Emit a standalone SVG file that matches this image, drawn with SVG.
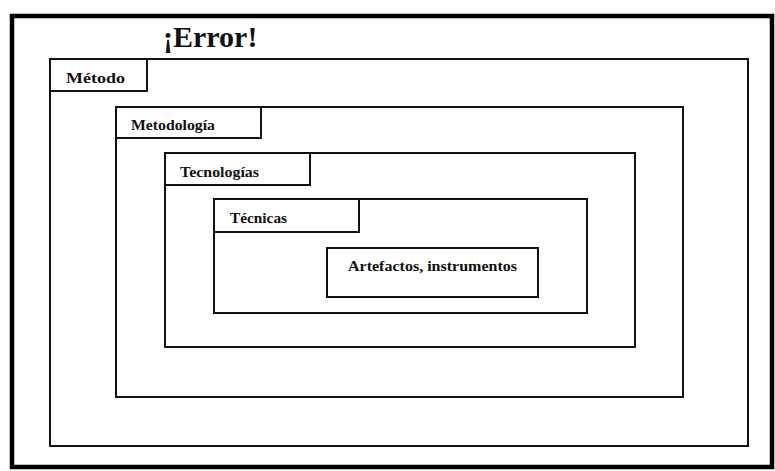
<svg xmlns="http://www.w3.org/2000/svg" width="775" height="471" viewBox="0 0 775 471">
<style>
.box{fill:none;stroke:#111;stroke-width:2}
.lbl{font-family:"Liberation Serif","Times New Roman",serif;font-weight:bold;font-size:15.5px;fill:#111}
</style>
<rect width="775" height="471" fill="#fff"/>
<rect x="12" y="16" width="760" height="451" fill="none" stroke="#000" stroke-width="4.5"/>
<text x="163" y="47" font-family="Liberation Serif, Times New Roman, serif" font-weight="bold" font-size="30" fill="#111">¡Error!</text>
<g id="metodo">
<rect class="box" x="50" y="59" width="698" height="387"/>
<rect class="box" x="50" y="59" width="97" height="32"/>
<text class="lbl" x="66" y="83" textLength="59" lengthAdjust="spacingAndGlyphs">Método</text>
</g>
<g id="metodologia">
<rect class="box" x="116" y="107" width="567" height="290"/>
<rect class="box" x="116" y="107" width="145" height="31"/>
<text class="lbl" x="131" y="130" textLength="84" lengthAdjust="spacingAndGlyphs">Metodología</text>
</g>
<g id="tecnologias">
<rect class="box" x="165" y="153" width="470" height="194"/>
<rect class="box" x="165" y="153" width="145" height="32"/>
<text class="lbl" x="180" y="177" textLength="79" lengthAdjust="spacingAndGlyphs">Tecnologías</text>
</g>
<g id="tecnicas">
<rect class="box" x="214" y="199" width="373" height="114"/>
<rect class="box" x="214" y="199" width="145" height="33"/>
<text class="lbl" x="230" y="223" textLength="57" lengthAdjust="spacingAndGlyphs">Técnicas</text>
</g>
<g id="artefactos">
<rect class="box" x="327" y="248" width="211" height="49"/>
<text class="lbl" x="348" y="271" textLength="169" lengthAdjust="spacingAndGlyphs">Artefactos, instrumentos</text>
</g>
<g id="connectors"/>
</svg>
